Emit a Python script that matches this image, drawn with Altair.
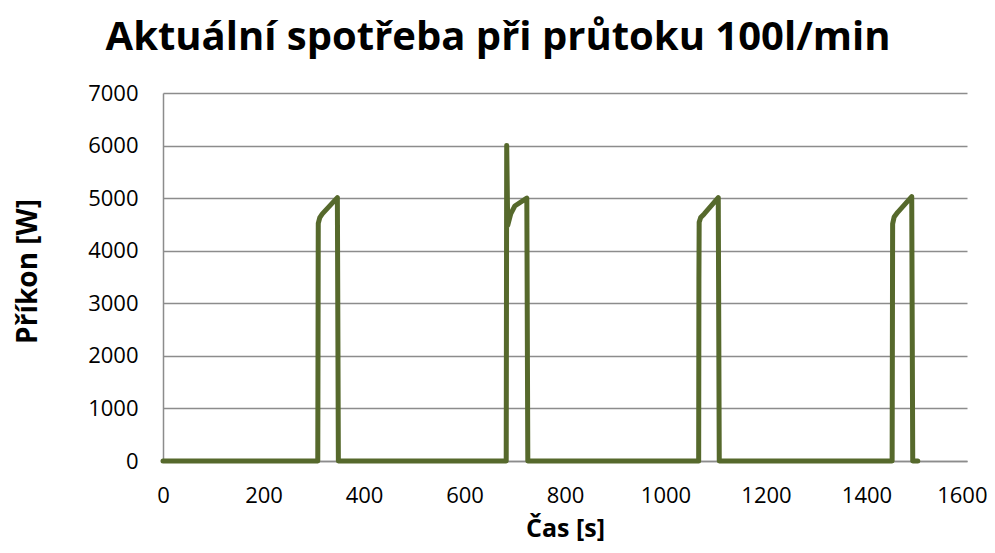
import altair as alt
import pandas as pd

# breakpoints (time in s, power in W)
times = [0, 308, 309, 312, 317, 347, 349,
         683, 684, 686, 692, 700, 724, 726,
         1066, 1066.5, 1067, 1070, 1077, 1105, 1107,
         1451, 1452, 1455, 1462, 1490, 1492, 1502]
power = [0, 0, 4520, 4630, 4700, 5010, 0,
         0, 6000, 4480, 4700, 4850, 5000, 0,
         0, 3450, 4540, 4630, 4700, 5010, 0,
         0, 4510, 4640, 4730, 5030, 0, 0]

x_ticks = [0, 200, 400, 600, 800, 1000, 1200, 1400, 1600]
y_ticks = [0, 1000, 2000, 3000, 4000, 5000, 6000, 7000]

df = pd.DataFrame({"t": times, "p": power, "i": range(len(times))})

FONT = "Open Sans"
GRID = "#8c8c8c"

chart = alt.Chart(df).mark_line(
    color="#56692C", strokeWidth=5, strokeJoin="round", strokeCap="round"
).encode(
    x=alt.X("t:Q", scale=alt.Scale(domain=[0, 1600], nice=False),
            axis=alt.Axis(values=x_ticks, title="Čas [s]", grid=False, ticks=False,
                          format="d",
                          domain=True, domainColor=GRID, domainWidth=1.5,
                          labelFont=FONT, labelFontSize=22, labelColor="#000",
                          labelPadding=24, labelFlush=False,
                          labelAlign=alt.condition("datum.value == 1600",
                                                   alt.value("right"), alt.value("center")),
                          labelOffset=alt.condition("datum.value == 1600",
                                                    alt.value(20), alt.value(0)),
                          titleFont=FONT, titleFontSize=25, titleFontWeight="bold",
                          titleColor="#000", titlePadding=10)),
    y=alt.Y("p:Q", scale=alt.Scale(domain=[0, 7000], nice=False),
            axis=alt.Axis(values=y_ticks, title="Příkon [W]", grid=True, gridColor=GRID,
                          format="d",
                          gridWidth=1.5, ticks=False, domain=True, domainColor=GRID,
                          domainWidth=1.5,
                          labelFont=FONT, labelFontSize=22, labelColor="#000",
                          labelPadding=25,
                          titleFont=FONT, titleFontSize=28, titleFontWeight="bold",
                          titleColor="#000", titlePadding=45, titleY=178)),
    order="i:Q",
).properties(
    width=804,
    height=368,
    title=alt.Title("Aktuální spotřeba při průtoku 100l/min", font=FONT, fontSize=40,
                    fontWeight="bold", color="#000", anchor="middle", dx=-67, offset=24),
    autosize=alt.AutoSizeParams(type="none"),
    padding={"left": 155, "top": 85, "right": 20, "bottom": 84},
).configure_view(stroke=None)

chart.save("out.html", embed_options={"renderer": "svg", "actions": False})
